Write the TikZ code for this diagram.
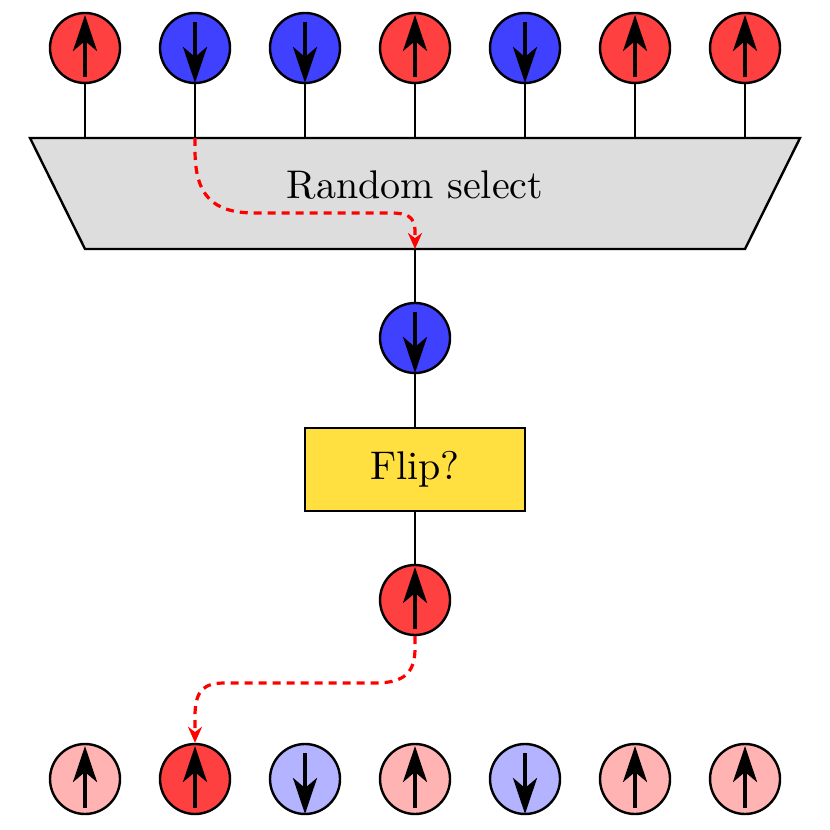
\documentclass[tikz,border=0pt]{standalone}
\usetikzlibrary{arrows.meta,calc}
\definecolor{spinred}{RGB}{255,64,64}
\definecolor{spinblue}{RGB}{64,64,255}
\definecolor{paler}{RGB}{255,179,179}
\definecolor{paleb}{RGB}{179,179,255}
\definecolor{boxgray}{RGB}{221,221,221}
\definecolor{flipy}{RGB}{255,224,64}
\begin{document}
\begin{tikzpicture}[x=0.25pt,y=-0.25pt,
 site/.style={circle,draw=black,line width=0.6pt,minimum size=17.5pt,inner sep=0pt},
 conn/.style={line width=0.45pt},
 spin/.style={line width=1pt,-{Stealth[length=9pt,width=6pt,inset=2.5pt]}},
 move/.style={red,line width=0.8pt,dash pattern=on 2pt off 1.5pt,-{Stealth[length=4pt,width=3.5pt]}}]
\useasboundingbox (0,0) rectangle (830,830);
% top row
\foreach \i/\x/\c in {1/85/spinred,2/195/spinblue,3/305/spinblue,4/415/spinred,5/525/spinblue,6/635/spinred,7/745/spinred}{
  \node[site,fill=\c] (t\i) at (\x,48) {};
  \coordinate (s\i) at (\x,138);
}
% bottom row
\foreach \i/\x/\c in {1/85/paler,2/195/spinred,3/305/paleb,4/415/paler,5/525/paleb,6/635/paler,7/745/paler}{
  \node[site,fill=\c] (b\i) at (\x,779) {};
}
% selector
\draw[fill=boxgray,line width=0.6pt] (30,138) -- (800,138) -- (745,249) -- (85,249) -- cycle;
\node (seltext) at (415,185) {Random select};
\coordinate (sel) at (415,249);
\foreach \i in {1,...,7}{ \draw[conn] (t\i) -- (s\i); }
% middle chain
\node[site,fill=spinblue] (m) at (415,338) {};
\node[draw,line width=0.6pt,fill=flipy,minimum width=55pt,minimum height=20.75pt,inner sep=0pt] (flip) at (415,469.5) {Flip?};
\node[site,fill=spinred] (r) at (415,600) {};
\draw[conn] (sel) -- (m);
\draw[conn] (m) -- (flip);
\draw[conn] (flip) -- (r);
% spins
\foreach \n in {t1,t4,t6,t7,r,b1,b2,b4,b6,b7}{
  \draw[spin] ($(\n)+(0,29)$) -- ($(\n)+(0,-33)$);
}
\foreach \n in {t2,t3,t5,m,b3,b5}{
  \draw[spin] ($(\n)+(0,-26)$) -- ($(\n)+(0,35)$);
}
% moves
\draw[move] (s2) -- (195,150) .. controls (195,195) and (212,213) .. (255,213) -- (390,213) .. controls (407,213) and (415,216) .. (415,232) -- (sel);
\draw[move] (r.south) -- (415,648) .. controls (415,672) and (405,683) .. (375,683) -- (225,683) .. controls (204,683) and (196,690) .. (195,713) -- (b2.north);
\end{tikzpicture}
\end{document}
